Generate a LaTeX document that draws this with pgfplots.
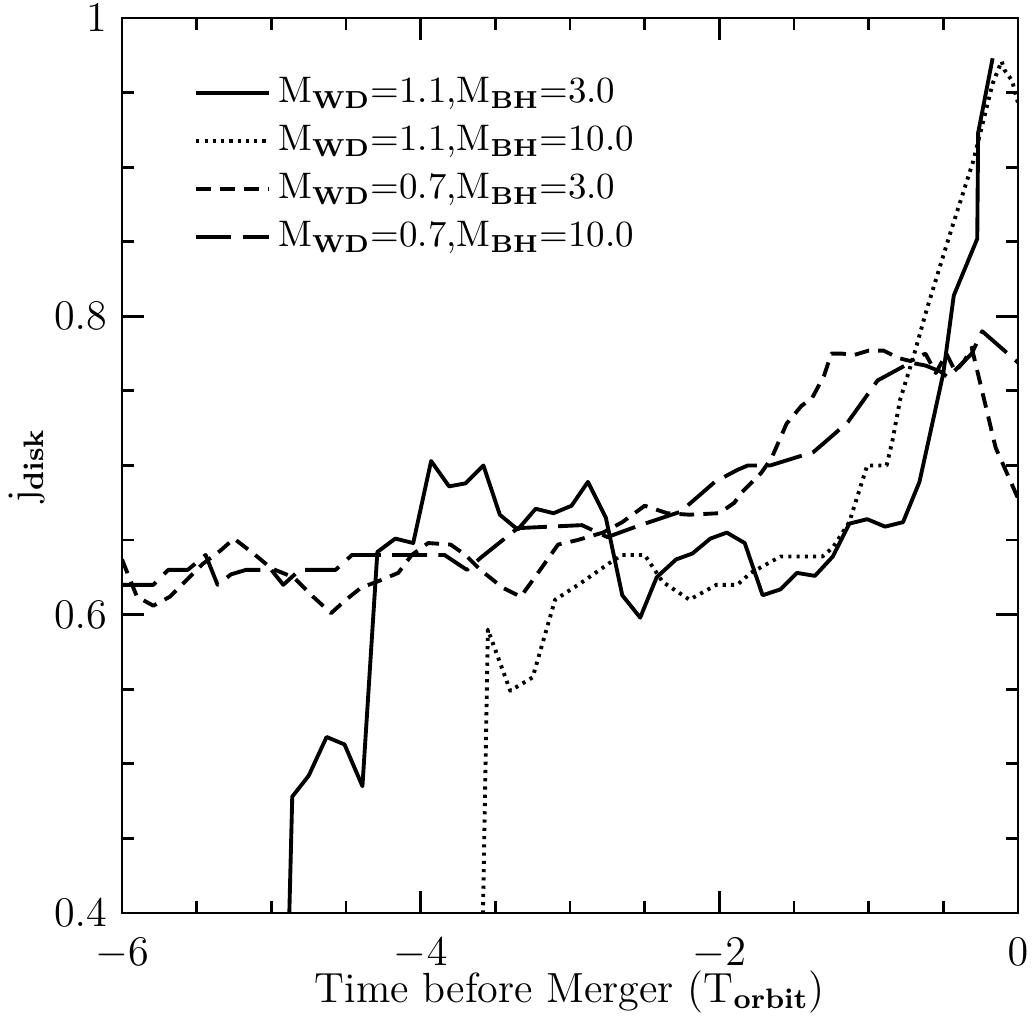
\documentclass[border=0pt]{standalone}
\usepackage{pgfplots}
\pgfplotsset{compat=1.18}
\begin{document}
\begin{tikzpicture}
\begin{axis}[
    scale only axis,
    width=8.96cm, height=8.95cm,
    xmin=-6, xmax=0, ymin=0.4, ymax=1,
    xtick={-6,-4,-2,0}, ytick={0.4,0.6,0.8,1},
    minor x tick num=3, minor y tick num=3,
    tick align=inside,
    major tick length=0.22cm, minor tick length=0.12cm,
    axis line style={line width=0.8pt},
    every tick/.style={black, line width=0.8pt},
    tick label style={font=\fontsize{12}{14}\selectfont, inner sep=1pt},
    xticklabel style={yshift=-0.21cm},
    yticklabel style={xshift=-0.11cm},
    label style={font=\fontsize{12}{14}\selectfont, inner sep=0pt},
    xlabel={Time before Merger (T$_{\mathbf{orbit}}$)},
    ylabel={j$_{\mathbf{disk}}$},
    xlabel style={at={(axis description cs:0.5,-0.1)}, anchor=base},
    ylabel style={at={(axis description cs:-0.095,0.5)}, anchor=base},
    legend style={at={(axis description cs:0.08,0.942)}, anchor=north west,
        draw=none, fill=none, inner sep=0pt, row sep=1pt,
        font=\fontsize{10.5}{12}\selectfont},
    legend cell align=left,
    legend image code/.code={\draw[#1] (0cm,0cm) -- (0.73cm,0cm);},
    every axis plot/.append style={line width=1.1pt, line join=round},
]
% M_WD=1.1, M_BH=3.0
\addplot[black, solid] coordinates {
(-4.98,0.00) (-4.86,0.478) (-4.75,0.492) (-4.63,0.518) (-4.51,0.513) (-4.39,0.485)
(-4.29,0.642) (-4.17,0.651) (-4.05,0.648) (-3.93,0.703) (-3.81,0.686) (-3.70,0.688)
(-3.58,0.700) (-3.47,0.667) (-3.35,0.657) (-3.23,0.671) (-3.11,0.668) (-2.99,0.673)
(-2.88,0.689) (-2.76,0.665) (-2.65,0.613) (-2.53,0.598) (-2.42,0.625) (-2.29,0.637)
(-2.18,0.641) (-2.06,0.651) (-1.95,0.655) (-1.83,0.648) (-1.71,0.613) (-1.59,0.617)
(-1.48,0.628) (-1.36,0.626) (-1.24,0.639) (-1.13,0.661) (-1.01,0.664) (-0.89,0.659)
(-0.77,0.662) (-0.66,0.689) (-0.55,0.739) (-0.50,0.762) (-0.43,0.814) (-0.273,0.852)
(-0.267,0.923) (-0.17,0.973)
};
\addlegendentry{M$_{\mathbf{WD}}$=1.1,M$_{\mathbf{BH}}$=3.0}
% M_WD=1.1, M_BH=10.0
\addplot[black, dash pattern=on 0.9pt off 1.45pt] coordinates {
(-3.60,0.30) (-3.55,0.590) (-3.40,0.549) (-3.25,0.558) (-3.10,0.610) (-2.93,0.621)
(-2.73,0.635) (-2.65,0.640) (-2.50,0.640) (-2.38,0.622) (-2.20,0.610) (-2.02,0.620)
(-1.88,0.620) (-1.79,0.628) (-1.59,0.639) (-1.31,0.639) (-1.24,0.645) (-1.13,0.662)
(-1.01,0.700) (-0.88,0.700) (-0.84,0.717) (-0.79,0.744) (-0.70,0.773) (-0.61,0.805)
(-0.45,0.857) (-0.30,0.904) (-0.25,0.924) (-0.17,0.956) (-0.11,0.971) (-0.09,0.965)
(-0.04,0.958) (0,0.943)
};
\addlegendentry{M$_{\mathbf{WD}}$=1.1,M$_{\mathbf{BH}}$=10.0}
% M_WD=0.7, M_BH=3.0
\addplot[black, dash pattern=on 4.2pt off 2.6pt] coordinates {
(-6.00,0.637) (-5.90,0.612) (-5.79,0.606) (-5.68,0.612) (-5.57,0.623) (-5.46,0.634)
(-5.34,0.643) (-5.25,0.651) (-5.12,0.641) (-5.00,0.631) (-4.85,0.625) (-4.72,0.612)
(-4.60,0.601) (-4.50,0.610) (-4.40,0.618) (-4.27,0.623) (-4.15,0.628) (-4.06,0.640)
(-3.95,0.648) (-3.80,0.647) (-3.70,0.640) (-3.60,0.630) (-3.45,0.618) (-3.33,0.612)
(-3.20,0.630) (-3.08,0.647) (-2.95,0.650) (-2.78,0.655) (-2.65,0.662) (-2.50,0.673)
(-2.35,0.668) (-2.20,0.667) (-2.00,0.668) (-1.90,0.675) (-1.85,0.682) (-1.72,0.695)
(-1.65,0.705) (-1.55,0.728) (-1.45,0.740) (-1.38,0.745) (-1.30,0.760) (-1.25,0.775)
(-1.18,0.775) (-1.10,0.774) (-1.00,0.777) (-0.90,0.777) (-0.80,0.772) (-0.72,0.770)
(-0.62,0.775) (-0.55,0.762) (-0.48,0.775) (-0.42,0.763) (-0.36,0.770) (-0.31,0.779)
(-0.15,0.712) (0,0.678)
};
\addlegendentry{M$_{\mathbf{WD}}$=0.7,M$_{\mathbf{BH}}$=3.0}
% M_WD=0.7, M_BH=10.0
\addplot[black, dash pattern=on 10pt off 3.2pt] coordinates {
(-6.00,0.620) (-5.79,0.620) (-5.69,0.630) (-5.56,0.630) (-5.44,0.640) (-5.36,0.620)
(-5.27,0.627) (-5.17,0.630) (-5.00,0.630) (-4.92,0.620) (-4.81,0.630) (-4.57,0.630)
(-4.46,0.640) (-3.84,0.640) (-3.69,0.630) (-3.60,0.638) (-3.35,0.658) (-2.92,0.660)
(-2.75,0.652) (-2.53,0.660) (-2.26,0.669) (-2.03,0.689) (-1.88,0.697) (-1.81,0.700)
(-1.66,0.700) (-1.37,0.709) (-1.30,0.715) (-1.14,0.729) (-0.94,0.757) (-0.72,0.769)
(-0.62,0.767) (-0.52,0.763) (-0.47,0.759) (-0.39,0.767) (-0.31,0.775) (-0.24,0.790)
(0,0.769)
};
\addlegendentry{M$_{\mathbf{WD}}$=0.7,M$_{\mathbf{BH}}$=10.0}
\end{axis}
\pgfresetboundingbox
\path[use as bounding box] ([xshift=-1.22cm,yshift=-1.03cm]current axis.south west)
    rectangle ([xshift=0.16cm,yshift=0.18cm]current axis.north east);
\end{tikzpicture}
\end{document}
